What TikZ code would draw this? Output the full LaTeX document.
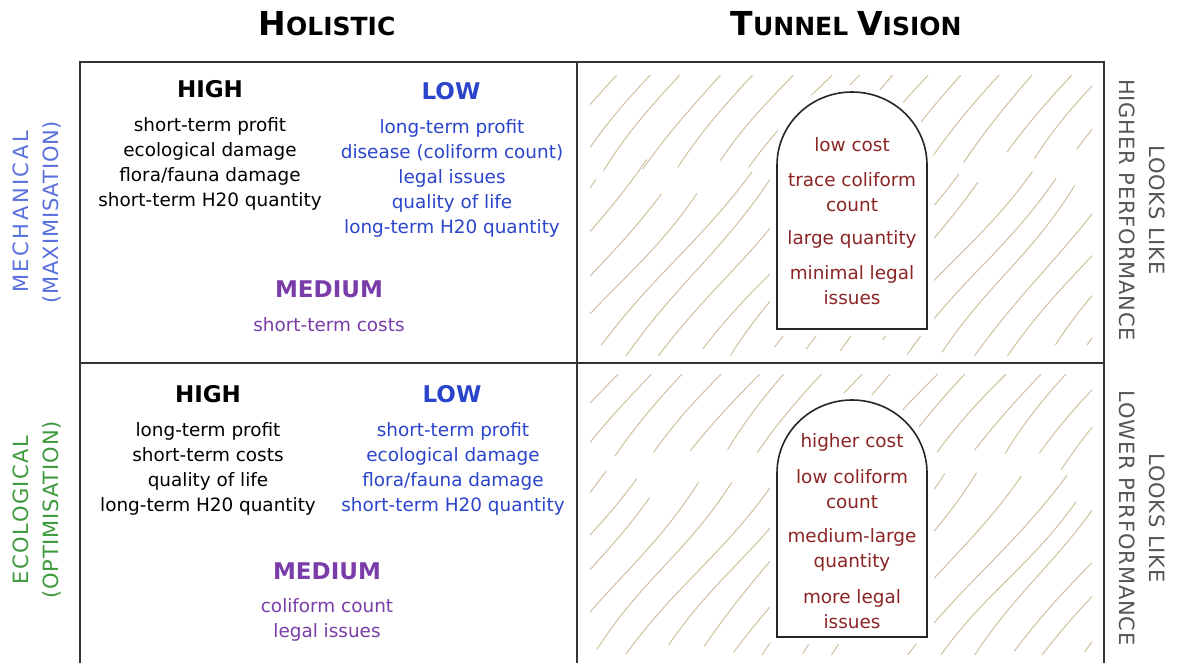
\documentclass[tikz,border=0pt]{standalone}
\usepackage{fontspec}
\setmainfont{DejaVu Sans}
\definecolor{frame}{HTML}{333333}
\definecolor{hi}{HTML}{000000}
\definecolor{lo}{HTML}{2A44CC}
\definecolor{med}{HTML}{7A3CA8}
\definecolor{tun}{HTML}{8B2525}
\definecolor{hatchc}{HTML}{CDBB98}
\definecolor{mech}{HTML}{5A70DD}
\definecolor{eco}{HTML}{3C9A3C}
\definecolor{perf}{HTML}{555555}
\tikzset{
  body/.style={align=center,inner sep=0pt,font=\fontsize{18.4}{25}\selectfont},
  head/.style={inner sep=0pt,font=\fontsize{23}{25}\selectfont\bfseries},
  tunt/.style={body,text=tun},
  hatch/.style={draw=hatchc,line width=0.9pt,line cap=round},
  tunnel/.style={draw=black!85,line width=1.6pt,fill=white},
  side/.style={align=center,inner sep=0pt,font=\fontsize{21}{30}\selectfont\addfontfeature{LetterSpace=4}},
  title/.style={inner sep=0pt,text=black,font=\bfseries}
}
\newcommand{\fakesc}[2]{{\fontsize{33}{33}\selectfont #1}{\fontsize{25}{33}\selectfont #2}}
\begin{document}
\begin{tikzpicture}[x=1pt,y=1pt]
\useasboundingbox (0,0) rectangle (1177,-662);
% titles
\node[title] (tholistic) at (327,-24) {\fakesc{H}{OLISTIC}};
\node[title] (ttunnel) at (846,-24) {\fakesc{T}{UNNEL}\hspace{9pt}\fakesc{V}{ISION}};
% hatching
\pgfmathsetseed{5}
\foreach \qy in {-363,-662} {
 \begin{scope}
  \clip (590,\qy+8) rectangle (1092,\qy+288);
  \foreach \k in {-9,...,14} {
   \foreach \s in {0,1} {
    \pgfmathsetmacro\len{225+20*rand}
    \pgfmathsetmacro\st{\s*250+15*rand}
    \pgfmathsetmacro\ang{50+2*rand}
    \pgfmathsetmacro\bx{594+35*\k+\st*cos(50)+3*rand}
    \pgfmathsetmacro\by{\qy+12+\st*sin(50)}
    \pgfmathsetmacro\ex{\bx+\len*cos(\ang)}
    \pgfmathsetmacro\ey{\by+\len*sin(\ang)}
    \pgfmathsetmacro\bo{\ang+5+2*rand}
    \pgfmathsetmacro\bi{\ang+180+5+2*rand}
    \draw[hatch] (\bx,\by) to[out=\bo,in=\bi] (\ex,\ey);
   }
  }
 \end{scope}
}
% white margin around tunnels
\foreach \ty/\tb in {-165/-329,-473/-637} {
  \draw[white,line width=14pt,fill=white] (777,\tb) -- (777,\ty) arc[start angle=180,end angle=0,x radius=75,y radius=73] -- (927,\tb) -- cycle;
}
% frame
\draw[frame,line width=1.5pt] (80,-680) -- (80,-62) -- (1104,-62) -- (1104,-680);
\draw[frame,line width=1.5pt] (80,-363) -- (1104,-363);
\draw[frame,line width=1.5pt] (577,-62) -- (577,-680);
% tunnels
\draw[tunnel] (777,-329) -- (777,-165) arc[start angle=180,end angle=0,x radius=75,y radius=73] -- (927,-329) -- cycle;
\draw[tunnel] (777,-637) -- (777,-473) arc[start angle=180,end angle=0,x radius=75,y radius=73] -- (927,-637) -- cycle;
% side labels
\node[side,text=mech,rotate=90] (lmech) at (37,-212) {{\addfontfeature{LetterSpace=12}MECHANICAL}\\(MAXIMISATION)};
\node[side,text=eco,rotate=90] (leco) at (37,-510) {{\addfontfeature{LetterSpace=7}ECOLOGICAL}\\(OPTIMISATION)};
\node[side,text=perf,rotate=-90] (rhigh) at (1142,-210) {LOOKS LIKE\\HIGHER PERFORMANCE};
\node[side,text=perf,rotate=-90] (rlow) at (1142,-518) {LOOKS LIKE\\LOWER PERFORMANCE};
% top-left quadrant
\node[head,text=hi] (h1) at (210,-89) {HIGH};
\node[body,text=hi] (h1t) at (210,-163.5) {short-term profit\\ecological damage\\flora/fauna damage\\short-term H20 quantity};
\node[head,text=lo] (l1) at (451,-91) {LOW};
\node[body,text=lo] (l1t) at (452,-178) {long-term profit\\disease (coliform count)\\legal issues\\quality of life\\long-term H20 quantity};
\node[head,text=med] (m1) at (329,-289) {MEDIUM};
\node[body,text=med] (m1t) at (329,-325) {short-term costs};
% bottom-left quadrant
\node[head,text=hi] (h2) at (208,-394) {HIGH};
\node[body,text=hi] (h2t) at (208,-468.5) {long-term profit\\short-term costs\\quality of life\\long-term H20 quantity};
\node[head,text=lo] (l2) at (452,-394) {LOW};
\node[body,text=lo] (l2t) at (453,-468.5) {short-term profit\\ecological damage\\flora/fauna damage\\short-term H20 quantity};
\node[head,text=med] (m2) at (327,-571) {MEDIUM};
\node[body,text=med] (m2t) at (327,-619.5) {coliform count\\legal issues};
% tunnel texts top
\node[tunt] (ta1) at (852,-145) {low cost};
\node[tunt] (ta2) at (852,-192.5) {trace coliform\\count};
\node[tunt] (ta3) at (852,-239) {large quantity};
\node[tunt] (ta4) at (852,-285.5) {minimal legal\\issues};
% tunnel texts bottom
\node[tunt] (tb1) at (852,-442) {higher cost};
\node[tunt] (tb2) at (852,-489.5) {low coliform\\count};
\node[tunt] (tb3) at (852,-549.5) {medium-large\\quantity};
\node[tunt] (tb4) at (852,-609.5) {more legal\\issues};
\end{tikzpicture}
\end{document}
